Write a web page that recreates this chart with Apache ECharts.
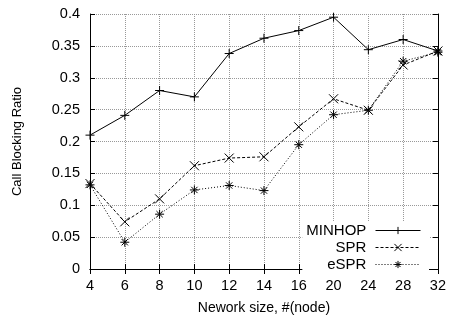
<!DOCTYPE html>
<html>
<head>
<meta charset="utf-8">
<script src="https://cdn.jsdelivr.net/npm/echarts@6/dist/echarts.min.js"></script>
<style>
  html, body { margin: 0; padding: 0; background: #fff; }
  #chart { width: 449px; height: 320px; }
</style>
</head>
<body>
<div id="chart"></div>
<script>
// network sizes (x categories)
var nodes = ['4', '6', '8', '10', '12', '14', '16', '20', '24', '28', '32'];
var minhop = [0.210, 0.241, 0.280, 0.270, 0.338, 0.362, 0.374, 0.395, 0.344, 0.360, 0.342];
var spr = [0.134, 0.074, 0.110, 0.162, 0.174, 0.176, 0.223, 0.267, 0.249, 0.320, 0.342];
var espr = [0.132, 0.042, 0.086, 0.124, 0.131, 0.123, 0.195, 0.242, 0.249, 0.326, 0.340];

var FONT = 'Liberation Sans, Arial, sans-serif';
var PLUS = 'path://M5,0L5,10M0,5L10,5';
var CROSS = 'path://M0,0L10,10M10,0L0,10';
var STAR = 'path://M5,0L5,10M0,5L10,5M1.5,1.5L8.5,8.5M8.5,1.5L1.5,8.5';

var chart = echarts.init(document.getElementById('chart'), null, { renderer: 'canvas' });

function mkSeries(name, data, symbol, lineType) {
  return {
    name: name,
    type: 'line',
    data: data,
    symbol: symbol,
    symbolSize: 9,
    showAllSymbol: true,
    lineStyle: { color: '#000', width: 1, type: lineType },
    itemStyle: { color: '#000', borderColor: '#000', borderWidth: 1 },
    emphasis: { disabled: true },
    animation: false
  };
}

var option = {
  animation: false,
  grid: { left: 90, right: 9, top: 14, bottom: 48 },
  legend: {
    right: 20,
    top: 221,
    orient: 'vertical',
    align: 'right',
    itemWidth: 45,
    itemHeight: 9,
    itemGap: 2,
    padding: [2, 8, 2, 4],
    backgroundColor: '#fff',
    lineStyle: { width: 1 },
    itemStyle: { borderWidth: 1, borderColor: '#000' },
    formatter: function (name) { return name + ' '; },
    textStyle: { fontFamily: FONT, fontSize: 15, lineHeight: 13, color: '#000' },
    data: ['MINHOP', 'SPR', 'eSPR']
  },
  xAxis: [
    {
      type: 'category',
      data: nodes,
      boundaryGap: false,
      name: 'Nework size, #(node)',
      nameLocation: 'middle',
      nameGap: 32,
      nameTextStyle: { fontFamily: FONT, fontSize: 14, color: '#000' },
      axisLine: { lineStyle: { color: '#000', width: 1 } },
      axisTick: { inside: true, length: 5, lineStyle: { color: '#000' } },
      axisLabel: { fontFamily: FONT, fontSize: 14.5, color: '#000', margin: 9 },
      splitLine: { show: true, lineStyle: { color: '#999', type: 'dotted' } }
    },
    {
      type: 'category',
      data: nodes,
      boundaryGap: false,
      position: 'top',
      axisLine: { lineStyle: { color: '#000', width: 1 } },
      axisTick: { inside: true, length: 5, lineStyle: { color: '#000' } },
      axisLabel: { show: false },
      splitLine: { show: false }
    }
  ],
  yAxis: [
    {
      type: 'value',
      min: 0,
      max: 0.4,
      interval: 0.05,
      name: 'Call Blocking Ratio',
      nameLocation: 'middle',
      nameGap: 66,
      nameTextStyle: { fontFamily: FONT, fontSize: 13, color: '#000' },
      axisLine: { show: true, lineStyle: { color: '#000', width: 1 } },
      axisTick: { show: true, inside: true, length: 5, lineStyle: { color: '#000' } },
      axisLabel: { fontFamily: FONT, fontSize: 14.5, color: '#000', margin: 10 },
      splitLine: { show: true, lineStyle: { color: '#999', type: 'dotted' } }
    },
    {
      type: 'value',
      min: 0,
      max: 0.4,
      interval: 0.05,
      position: 'right',
      axisLine: { show: true, lineStyle: { color: '#000', width: 1 } },
      axisTick: { show: true, inside: true, length: 5, lineStyle: { color: '#000' } },
      axisLabel: { show: false },
      splitLine: { show: false }
    }
  ],
  series: [
    mkSeries('MINHOP', minhop, PLUS, 'solid'),
    mkSeries('SPR', spr, CROSS, [3, 2]),
    mkSeries('eSPR', espr, STAR, [1, 2])
  ]
};

chart.setOption(option);
</script>
</body>
</html>
